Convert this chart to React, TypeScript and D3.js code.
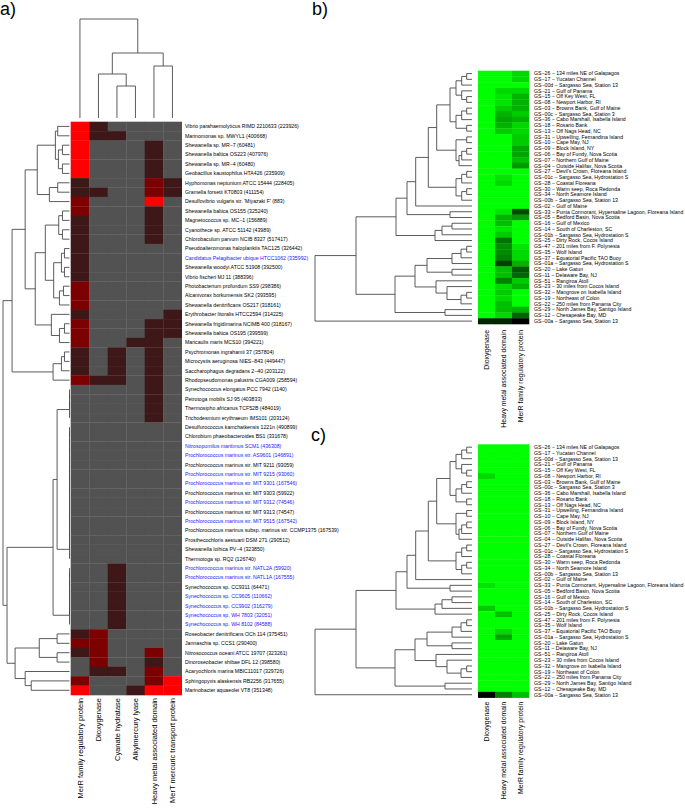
import React from "react";
import * as d3 from "d3";

type Tree = number | [number, Tree, Tree];

// ---------- Panel a data ----------
const aColumns = [
  "MerR family regulatory protein",
  "Dioxygenase",
  "Cyanate hydratase",
  "Alkylmercury lyase",
  "Heavy metal associated domain",
  "MerT mercuric transport protein",
];
const aOrganisms = [
  "Vibrio parahaemolyticus RIMD 2210633 (223926)",
  "Marinomonas sp. MWYL1 (400668)",
  "Shewanella sp. MR\u22127 (60481)",
  "Shewanella baltica OS223 (407976)",
  "Shewanella sp. MR\u22124 (60480)",
  "Geobacillus kaustophilus HTA426 (235909)",
  "Hyphomonas neptunium ATCC 15444 (228405)",
  "Gramella forsetii KT0803 (411154)",
  "Desulfovibrio vulgaris str. 'Miyazaki F' (883)",
  "Shewanella baltica OS155 (325240)",
  "Magnetococcus sp. MC\u22121 (156889)",
  "Cyanothece sp. ATCC 51142 (43989)",
  "Chlorobaculum parvum NCIB 8327 (517417)",
  "Pseudoalteromonas haloplanktis TAC125 (326442)",
  "Candidatus Pelagibacter ubique HTCC1062 (335992)",
  "Shewanella woodyi ATCC 51908 (392500)",
  "Vibrio fischeri MJ 11 (388396)",
  "Photobacterium profundum SS9 (298386)",
  "Alcanivorax borkumensis SK2 (393595)",
  "Shewanella denitrificans OS217 (318161)",
  "Erythrobacter litoralis HTCC2594 (314225)",
  "Shewanella frigidimarina NCIMB 400 (318167)",
  "Shewanella baltica OS195 (399599)",
  "Maricaulis maris MCS10 (394221)",
  "Psychromonas ingrahamii 37 (357804)",
  "Microcystis aeruginosa NIES\u2212843 (449447)",
  "Saccharophagus degradans 2\u221240 (203122)",
  "Rhodopseudomonas palustris CGA009 (258594)",
  "Synechococcus elongatus PCC 7942 (1140)",
  "Petrotoga mobilis SJ 95 (403833)",
  "Thermosipho africanus TCF52B (484019)",
  "Trichodesmium erythraeum IMS101 (203124)",
  "Desulfurococcus kamchatkensis 1221n (490899)",
  "Chlorobium phaeobacteroides BS1 (331678)",
  "Nitrosopumilus maritimus SCM1 (436308)",
  "Prochlorococcus marinus str. AS9601 (146891)",
  "Prochlorococcus marinus str. MIT 9211 (93059)",
  "Prochlorococcus marinus str. MIT 9215 (93060)",
  "Prochlorococcus marinus str. MIT 9301 (167546)",
  "Prochlorococcus marinus str. MIT 9303 (59922)",
  "Prochlorococcus marinus str. MIT 9312 (74546)",
  "Prochlorococcus marinus str. MIT 9313 (74547)",
  "Prochlorococcus marinus str. MIT 9515 (167542)",
  "Prochlorococcus marinus subsp. marinus str. CCMP1375 (167539)",
  "Prosthecochloris aestuarii DSM 271 (290512)",
  "Shewanella loihica PV\u22124 (323850)",
  "Thermotoga sp. RQ2 (126740)",
  "Prochlorococcus marinus str. NATL2A (59920)",
  "Prochlorococcus marinus str. NATL1A (167555)",
  "Synechococcus sp. CC9311 (64471)",
  "Synechococcus sp. CC9605 (110662)",
  "Synechococcus sp. CC9902 (316279)",
  "Synechococcus sp. WH 7803 (32051)",
  "Synechococcus sp. WH 8102 (84588)",
  "Roseobacter denitrificans OCh 114 (375451)",
  "Jannaschia sp. CCS1 (290400)",
  "Nitrosococcus oceani ATCC 19707 (323261)",
  "Dinoroseobacter shibae DFL 12 (398580)",
  "Acaryochloris marina MBIC11017 (329726)",
  "Sphingopyxis alaskensis RB2256 (317655)",
  "Marinobacter aquaeolei VT8 (351348)",
];
const aBlueRows = [14, 34, 35, 37, 38, 40, 42, 47, 48, 50, 51, 52, 53];
// level 0 = absent (grey), 1 = low, 2 = medium, 3 = high
const aLevels: number[][] = [
  [3, 1, 0, 0, 0, 0],
  [3, 1, 1, 0, 0, 0],
  [3, 0, 0, 0, 1, 0],
  [3, 0, 0, 0, 1, 0],
  [3, 0, 0, 0, 1, 0],
  [3, 0, 0, 0, 1, 0],
  [1, 0, 0, 0, 2, 1],
  [1, 1, 0, 0, 2, 1],
  [2, 0, 0, 0, 3, 0],
  [2, 0, 0, 0, 1, 0],
  [1, 0, 0, 0, 1, 0],
  [1, 0, 0, 0, 1, 0],
  [1, 0, 0, 0, 1, 0],
  [1, 0, 0, 0, 0, 0],
  [1, 0, 0, 0, 0, 0],
  [1, 0, 0, 0, 0, 0],
  [1, 0, 0, 0, 0, 0],
  [2, 0, 0, 0, 0, 0],
  [2, 0, 0, 0, 0, 0],
  [2, 0, 0, 0, 0, 0],
  [1, 0, 0, 0, 0, 1],
  [2, 0, 0, 0, 1, 1],
  [2, 0, 0, 0, 1, 1],
  [2, 0, 0, 1, 1, 0],
  [1, 0, 1, 0, 1, 0],
  [1, 0, 1, 0, 1, 0],
  [1, 0, 1, 0, 1, 0],
  [2, 1, 1, 0, 1, 0],
  [0, 0, 0, 0, 1, 0],
  [0, 0, 0, 0, 1, 0],
  [0, 0, 0, 0, 1, 0],
  [0, 0, 0, 0, 1, 0],
  [0, 0, 0, 0, 0, 0],
  [0, 0, 0, 0, 0, 0],
  [0, 0, 0, 0, 0, 0],
  [0, 0, 0, 0, 0, 0],
  [0, 0, 0, 0, 0, 0],
  [0, 0, 0, 0, 0, 0],
  [0, 0, 0, 0, 0, 0],
  [0, 0, 0, 0, 0, 0],
  [0, 0, 0, 0, 0, 0],
  [0, 0, 0, 0, 0, 0],
  [0, 0, 0, 0, 0, 0],
  [0, 0, 0, 0, 0, 0],
  [0, 0, 0, 0, 0, 0],
  [0, 0, 0, 0, 0, 0],
  [0, 0, 0, 0, 0, 0],
  [0, 0, 1, 0, 0, 0],
  [0, 0, 1, 0, 0, 0],
  [0, 0, 1, 0, 0, 0],
  [0, 0, 1, 0, 0, 0],
  [0, 0, 1, 0, 0, 0],
  [0, 0, 1, 0, 0, 0],
  [0, 0, 1, 0, 0, 0],
  [1, 2, 0, 0, 0, 0],
  [2, 2, 0, 0, 0, 0],
  [1, 2, 0, 0, 2, 0],
  [0, 2, 0, 0, 1, 0],
  [0, 1, 1, 0, 2, 0],
  [2, 0, 0, 0, 2, 3],
  [3, 0, 0, 1, 3, 3],
];
const aLevelColors = ["#525252", "#3e1818", "#7c0000", "#ff0000"];

// column dendrogram (merge heights)
const aColTree: Tree = [99, 0, [65, [44, 1, [32, 2, 3]], [52, 4, 5]]];

// identical profiles join at height 0 (chained merges)
const aChainHeavyOnly: Tree = [0, [0, [0, 28, 29], 30], 31];
const aChainEmpty: Tree = [0, [0, [0, [0, [0, [0, [0, [0, [0, [0, [0, [0, [0, [0, 32, 33], 34], 35], 36], 37], 38], 39], 40], 41], 42], 43], 44], 45], 46];
const aChainCyanate: Tree = [0, [0, [0, [0, [0, [0, 47, 48], 49], 50], 51], 52], 53];

// row dendrogram (merge heights)
const aRowTree: Tree = [
  66,
  [
    57,
    [
      44,
      [32, [14, [11.7, 0, 1], [11, [7, 2, 3], [7, 4, 5]]], [20, [11.7, 6, 7], 8]],
      [
        34,
        [24, [10.7, [7, 9, 10], [7, 11, 12]], [15.7, [8, [5, 13, 14], [5, 15, 16]], [10, [6, 17, 18], 19]]],
        [18, 20, [10, [5, 21, 22], 23]],
      ],
    ],
    [16.3, [8, [5, 24, 25], 26], 27],
  ],
  [
    62,
    [16.3, [12.3, aChainHeavyOnly, aChainEmpty], aChainCyanate],
    [54, [30, [12.3, 54, 55], [12.3, 56, 57]], [44, 58, [38, 59, 60]]],
  ],
];

// ---------- Panels b / c data ----------
const gsSamples = [
  "GS\u221226 \u2212 134 miles NE of Galapagos",
  "GS\u221217 \u2212 Yucatan Channel",
  "GS\u221200d \u2212 Sargasso Sea, Station 13",
  "GS\u221221 \u2212 Gulf of Panama",
  "GS\u221215 \u2212 Off Key West, FL",
  "GS\u221208 \u2212 Newport Harbor, RI",
  "GS\u221203 \u2212 Browns Bank, Gulf of Maine",
  "GS\u221200c \u2212 Sargasso Sea, Station 3",
  "GS\u221236 \u2212 Cabo Marshall, Isabella Island",
  "GS\u221218 \u2212 Rosario Bank",
  "GS\u221213 \u2212 Off Nags Head, NC",
  "GS\u221231 \u2212 Upwelling, Fernandina Island",
  "GS\u221210 \u2212 Cape May, NJ",
  "GS\u221209 \u2212 Block Island, NY",
  "GS\u221206 \u2212 Bay of Fundy, Nova Scotia",
  "GS\u221207 \u2212 Northern Gulf of Maine",
  "GS\u221204 \u2212 Outside Halifax, Nova Scotia",
  "GS\u221227 \u2212 Devil's Crown, Floreana Island",
  "GS\u221201c \u2212 Sargasso Sea, Hydrostation S",
  "GS\u221228 \u2212 Coastal Floreana",
  "GS\u221230 \u2212 Warm seep, Roca Redonda",
  "GS\u221234 \u2212 North Seamore Island",
  "GS\u221200b \u2212 Sargasso Sea, Station 13",
  "GS\u221202 \u2212 Gulf of Maine",
  "GS\u221233 \u2212 Punta Cormorant, Hypersaline Lagoon, Floreana Island",
  "GS\u221205 \u2212 Bedford Basin, Nova Scotia",
  "GS\u221216 \u2212 Gulf of Mexico",
  "GS\u221214 \u2212 South of Charleston, SC",
  "GS\u221201b \u2212 Sargasso Sea, Hydrostation S",
  "GS\u221225 \u2212 Dirty Rock, Cocos Island",
  "GS\u221247 \u2212 201 miles from F. Polynesia",
  "GS\u221235 \u2212 Wolf Island",
  "GS\u221237 \u2212 Equatorial Pacific TAO Buoy",
  "GS\u221201a \u2212 Sargasso Sea, Hydrostation S",
  "GS\u221220 \u2212 Lake Gatun",
  "GS\u221211 \u2212 Delaware Bay, NJ",
  "GS\u221251 \u2212 Rangiroa Atoll",
  "GS\u221223 \u2212 30 miles from Cocos Island",
  "GS\u221232 \u2212 Mangrove on Isabella Island",
  "GS\u221219 \u2212 Northeast of Colon",
  "GS\u221222 \u2212 250 miles from Panama City",
  "GS\u221229 \u2212 North James Bay, Santigo Island",
  "GS\u221212 \u2212 Chesapeake Bay, MD",
  "GS\u221200a \u2212 Sargasso Sea, Station 13",
];
const gsColumns = ["Dioxygenase", "Heavy metal associated domain", "MerR family regulatory protein"];
// relative brightness (1 = bright green, 0 = black)
const bDiox = [1,1,1,1,1,1,1,1,1,1,1,1,1,1,1,1,1,1,1,1,1,1,1,1,1,1,1,1,1,1,1,1,1,1,1,1,1,1,1,1,1,1,1,0.15];
const bHeavy = [1,1,1,0.85,0.9,0.9,0.8,0.7,0.65,0.7,0.8,1,1,1,1,1,1,1,0.9,0.85,1,1,1,1,0.9,0.7,0.75,0.9,0.8,0.45,0.55,0.55,0.5,0.25,0.75,0.75,0.5,0.85,0.8,0.85,0.75,0.75,0.85,0.15];
const bMerR = [0.85,0.85,1,0.85,0.7,0.7,0.7,0.8,0.7,0.85,0.85,0.8,0.8,0.65,0.65,0.75,0.6,1,1,1,1,1,1,1,0.3,0.6,1,1,1,1,0.9,0.85,0.85,0.7,0.35,0.4,0.8,0.7,1,1,1,0.7,0.4,0];
const cDiox = [1,1,1,1,1,0.85,1,1,1,1,1,1,1,1,1,1,1,1,1,1,1,1,1,1,0.9,1,1,1,0.8,1,1,1,1,1,1,1,1,1,1,1,1,1,1,0];
const cHeavy = [1,1,1,1,1,1,1,1,1,1,1,1,1,1,1,1,1,1,1,1,1,1,1,1,1,1,1,1,1,0.75,1,1,0.85,0.65,1,1,1,1,1,1,1,1,1,0.5];
const cMerR = [1,1,1,1,1,1,1,1,1,1,1,1,1,1,1,1,1,1,1,1,1,1,1,1,1,1,1,1,1,1,1,1,1,1,1,1,1,1,1,1,1,1,1,0.75];

// sample dendrogram (merge heights), shared by panels b and c
const gsTree: Tree = [
  157,
  [
    116,
    [
      76,
      [
        65,
        [
          56.3,
          [
            43.7,
            [
              35.3,
              [22, [16, [10.3, [5.3, 0, 1], 2], [10.3, 3, [5.3, 4, 5]]], [16, [10.3, [5.3, 6, 7], 8], [5.3, 9, 10]]],
              [16, [5.3, 11, 12], [13, [10.3, [5.3, 13, 14], 15], 16]],
            ],
            [16, [10.3, [5.3, 17, 18], 19], [10.3, [5.3, 20, 21], 22]],
          ],
          23,
        ],
        [22, 24, 25],
      ],
      [37, [30, [20, 26, 27], 28], 29],
    ],
    [
      77,
      [
        57,
        [45, [20, [11, [5.3, 30, 31], 32], 33], [20, 34, 35]],
        [36, 36, [25, 37, [11, [5.3, 38, 39], 40]]],
      ],
      [27, 41, 42],
    ],
  ],
  43,
];

// ---------- helpers ----------
type Seg = { p1: number; h1: number; p2: number; h2: number };
function dendroSegments(tree: Tree, leafPos: (i: number) => number): Seg[] {
  const segs: Seg[] = [];
  const walk = (t: Tree): { p: number; h: number } => {
    if (typeof t === "number") return { p: leafPos(t), h: 0 };
    const [h, a, b] = t;
    const A = walk(a);
    const B = walk(b);
    if (h > A.h) segs.push({ p1: A.p, h1: A.h, p2: A.p, h2: h });
    if (h > B.h) segs.push({ p1: B.p, h1: B.h, p2: B.p, h2: h });
    segs.push({ p1: A.p, h1: h, p2: B.p, h2: h });
    return { p: (A.p + B.p) / 2, h };
  };
  walk(tree);
  return segs;
}

const FONT = "'Liberation Sans', Arial, Helvetica, sans-serif";
const LINE = "#4a4a4a";

function GsPanel({ top, labelGap, diox, heavy, merr }: { top: number; labelGap: number; diox: number[]; heavy: number[]; merr: number[] }) {
  const H = 253.3;
  const rows = d3.scaleBand<number>().domain(d3.range(gsSamples.length)).range([top, top + H]);
  const cols = d3.scaleBand<number>().domain(d3.range(3)).range([478, 529]);
  const green = d3.scaleLinear<string>().domain([0, 1]).range(["#000000", "#00ff00"]);
  const hx = d3.scaleLinear().domain([0, 157]).range([472, 315]);
  const segs = dendroSegments(gsTree, (i) => rows(i)! + rows.bandwidth() / 2);
  const vals = [diox, heavy, merr];
  return (
    <g>
      {segs.map((s, i) => (
        <line key={"s" + i} x1={hx(s.h1)} x2={hx(s.h2)} y1={s.p1} y2={s.p2} stroke={LINE} strokeWidth={0.9} />
      ))}
      {vals.map((col, c) =>
        col.map((v, r) => (
          <rect key={c + "-" + r} x={cols(c)} y={rows(r)} width={cols.bandwidth() + 0.3} height={rows.bandwidth() + 0.3} fill={green(v)} />
        ))
      )}
      {gsSamples.map((s, r) => (
        <text key={"l" + r} x={534} y={rows(r)! + rows.bandwidth() / 2} dy="0.35em" fontSize={5.2} fontFamily={FONT}>
          {s}
        </text>
      ))}
      {gsColumns.map((s, c) => {
        const x = cols(c)! + cols.bandwidth() / 2;
        const y = top + H + labelGap;
        return (
          <text key={"c" + c} transform={`translate(${x},${y}) rotate(-90)`} dy="0.35em" textAnchor="end" fontSize={6.9} fontFamily={FONT}>
            {s}
          </text>
        );
      })}
    </g>
  );
}

export default function App() {
  const aRows = d3.scaleBand<number>().domain(d3.range(aOrganisms.length)).range([121.7, 695]);
  const aCols = d3.scaleBand<number>().domain(d3.range(aColumns.length)).range([70.7, 181.7]);
  const aRowH = d3.scaleLinear().domain([0, 66]).range([69.5, 3]);
  const aColH = d3.scaleLinear().domain([0, 99]).range([118, 19]);
  const rowSegs = dendroSegments(aRowTree, (i) => aRows(i)! + aRows.bandwidth() / 2);
  const colSegs = dendroSegments(aColTree, (i) => aCols(i)! + aCols.bandwidth() / 2);
  const blue = new Set(aBlueRows);

  return (
    <div style={{ position: "absolute", left: 0, top: 0 }}>
      <svg width={685} height={809} style={{ display: "block", background: "#fff" }}>
        <text x={0} y={15} fontSize={18} fontFamily={FONT}>a)</text>
        <text x={312} y={15} fontSize={18} fontFamily={FONT}>b)</text>
        <text x={311} y={441} fontSize={18} fontFamily={FONT}>c)</text>

        {rowSegs.map((s, i) => (
          <line key={"r" + i} x1={aRowH(s.h1)} x2={aRowH(s.h2)} y1={s.p1} y2={s.p2} stroke={LINE} strokeWidth={0.9} />
        ))}
        {colSegs.map((s, i) => (
          <line key={"c" + i} y1={aColH(s.h1)} y2={aColH(s.h2)} x1={s.p1} x2={s.p2} stroke={LINE} strokeWidth={0.9} />
        ))}
        {aLevels.map((row, r) =>
          row.map((v, c) => (
            <rect key={r + "-" + c} x={aCols(c)} y={aRows(r)} width={aCols.bandwidth() + 0.3} height={aRows.bandwidth() + 0.3} fill={aLevelColors[v]} />
          ))
        )}
        {aOrganisms.map((s, r) => (
          <text key={"o" + r} x={185} y={aRows(r)! + aRows.bandwidth() / 2} dy="0.35em" fontSize={5.2} fontFamily={FONT} fill={blue.has(r) ? "#1a1aff" : "#000"}>
            {s}
          </text>
        ))}
        {aColumns.map((s, c) => {
          const x = aCols(c)! + aCols.bandwidth() / 2;
          return (
            <text key={"ac" + c} transform={`translate(${x},${698}) rotate(-90)`} dy="0.35em" textAnchor="end" fontSize={7.5} fontFamily={FONT}>
              {s}
            </text>
          );
        })}

        <GsPanel top={70.7} labelGap={6} diox={bDiox} heavy={bHeavy} merr={bMerR} />
        <GsPanel top={444.3} labelGap={4} diox={cDiox} heavy={cHeavy} merr={cMerR} />
      </svg>
    </div>
  );
}
